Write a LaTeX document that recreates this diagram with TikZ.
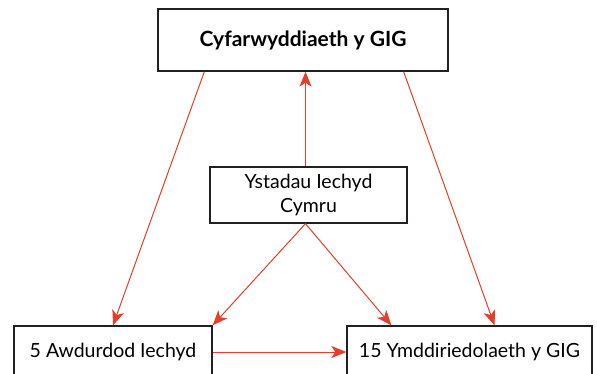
\documentclass[tikz,border=0pt]{standalone}
\usepackage{fontspec}
\setmainfont{Lato}
\usetikzlibrary{arrows.meta,calc}
\definecolor{myred}{RGB}{228,62,42}
\definecolor{myframe}{RGB}{35,31,32}

\begin{document}
\begin{tikzpicture}[x=1pt, y=-1pt,
    box/.style={draw=myframe, line width=1.3pt, rectangle, inner sep=0pt, align=center},
    link/.style={draw=myred, line width=1pt, -{Stealth[length=15pt, width=12pt, inset=4pt]}}]
    \useasboundingbox (0, 0) rectangle (597, 373);
    % Boxes
    \node[box, minimum width=290pt, minimum height=62pt, font=\fontsize{21}{24}\selectfont\bfseries] (dir) at (303, 40) {Cyfarwyddiaeth y GIG};
    \node[box, minimum width=197pt, minimum height=56pt, font=\fontsize{19.5}{24}\selectfont] (ystad) at (308.5, 195) {Ystadau Iechyd\\Cymru};
    \node[box, minimum width=198pt, minimum height=52pt, font=\fontsize{19.5}{22}\selectfont] (awd) at (113, 352) {5 Awdurdod Iechyd};
    \node[box, minimum width=245pt, minimum height=52pt, font=\fontsize{19.5}{22}\selectfont] (ymdd) at (469.5, 352) {15 Ymddiriedolaeth y GIG};
    % Arrows
    \draw[link] ($(dir.south west)+(47, 0)$) -- (awd.north);
    \draw[link] ($(dir.south east)+(-45, 0)$) -- ($(ymdd.north)+(25, 0)$);
    \draw[link] ($(ystad.north)+(-3, 0)$) -- ($(ystad.north |- dir.south)+(-3, 0)$);
    \draw[link] ($(ystad.south)+(-3, 0)$) -- (awd.north east);
    \draw[link] ($(ystad.south)+(-3, 0)$) -- ($(ymdd.north west)+(45, 0)$);
    \draw[link] (awd.east) -- (ymdd.west);
\end{tikzpicture}
\end{document}
